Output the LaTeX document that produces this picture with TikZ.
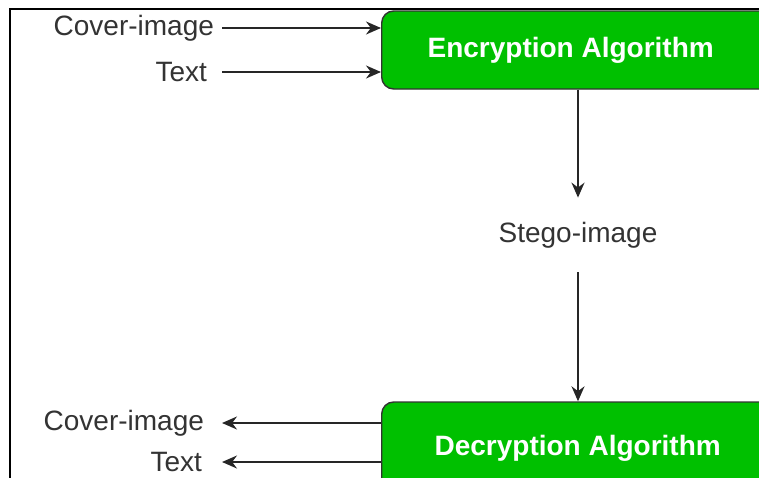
\documentclass[tikz,border=0pt]{standalone}
\usepackage{fontspec}
\setmainfont{Liberation Sans}
\usepackage{xcolor}
\usetikzlibrary{arrows.meta}
\definecolor{boxgreen}{RGB}{0,192,0}
\definecolor{txtgray}{RGB}{51,51,51}

\begin{document}
\begin{tikzpicture}[x=0.5pt,y=-0.5pt,>={Stealth[length=7.5pt,width=6.5pt]}]
\tikzstyle{algo}=[rectangle,draw=black!80,line width=0.7pt,rounded corners=6pt,fill=boxgreen,text=white,font=\fontsize{14}{16}\selectfont\bfseries,minimum width=220pt,anchor=west]
\tikzstyle{label}=[text=txtgray,font=\fontsize{14}{16}\selectfont]
\tikzstyle{flow}=[->,draw=black!85,line width=0.9pt]
\useasboundingbox (0,0) rectangle (759,477);
\clip (0,0) rectangle (759,477);
% frame of the screenshot
\draw[line width=1pt] (10,500) -- (10,8.5) -- (800,8.5);
% the two algorithms
\node[algo,minimum height=39pt] (enc) at (381,50) {Encryption Algorithm\hspace*{31pt}};
\node[algo,minimum height=46pt] (dec) at (381,448) {Decryption Algorithm\hspace*{24pt}};
\node[label,minimum height=37pt] (stego) at (578,235) {Stego-image};
% inputs and outputs
\node[label,anchor=east] (cin) at (221,28) {Cover-image};
\node[label,anchor=east] (tin) at (214,72) {Text};
\node[label,anchor=east] (cout) at (211,423) {Cover-image};
\node[label,anchor=east] (tout) at (209,462) {Text};
\coordinate (side) at (222,0);
\draw[flow] (side |- cin) -- (cin -| enc.west);
\draw[flow] (side |- tin) -- (tin -| enc.west);
\draw[flow] (enc.south -| stego) -- (stego);
\draw[flow] (stego) -- (stego |- dec.north);
\draw[flow] (cout -| dec.west) -- (side |- cout);
\draw[flow] (tout -| dec.west) -- (side |- tout);
\end{tikzpicture}
\end{document}
